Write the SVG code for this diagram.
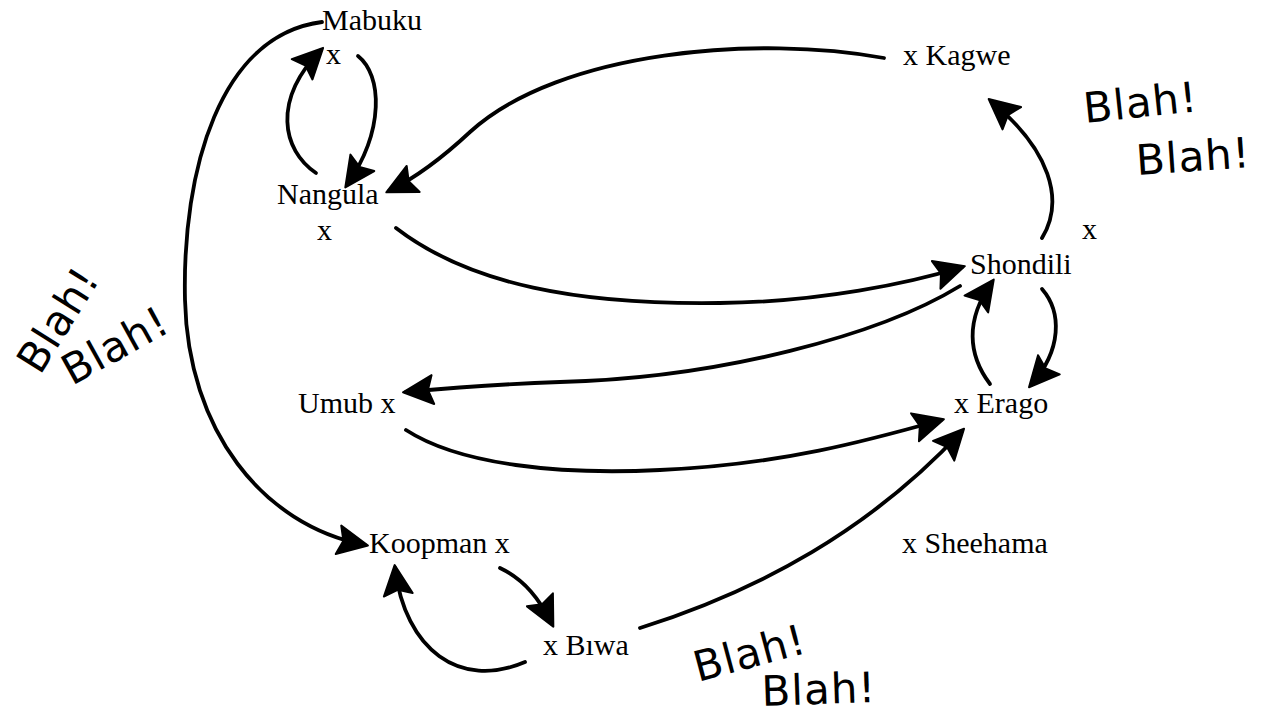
<svg xmlns="http://www.w3.org/2000/svg" width="1279" height="717" viewBox="0 0 1279 717">
  <style>
    .lbl { font-family: "Liberation Serif", "Times New Roman", serif; font-size: 30px; fill: #000; }
    .blah { font-family: "DejaVu Sans", "Liberation Sans", sans-serif; font-size: 42px; letter-spacing: 1px; fill: #000; }
    .edge { fill: none; stroke: #000; stroke-width: 3.8; stroke-linecap: round; marker-end: url(#ah); }
    .head { fill: #000; stroke: #000; stroke-width: 2; stroke-linejoin: round; }
  </style>
  <defs>
    <marker id="ah" viewBox="-36 -20 42 40" refX="0" refY="0" markerWidth="42" markerHeight="40" markerUnits="userSpaceOnUse" orient="auto">
      <path class="head" d="M3,0 L-27,-14.5 L-22,0 L-27,14.5 Z"/>
    </marker>
  </defs>
  <rect width="1279" height="717" fill="#fff"/>

  <!-- connectors -->
  <g id="connectors">
    <path class="edge" d="M322,22 C220,35 182,170 185,300 C188,430 262,525 365,545"/>
    <path class="edge" d="M358,56 C382,75 385,130 347,185"/>
    <path class="edge" d="M316,173 C282,150 272,100 321,50"/>
    <path class="edge" d="M884,58 C760,35 560,50 470,132 C440,160 415,178 389,191"/>
    <path class="edge" d="M396,228 C470,285 580,305 720,303 C820,302 910,283 962,267"/>
    <path class="edge" d="M960,286 C880,335 720,378 560,382 C500,384 450,388 406,392"/>
    <path class="edge" d="M406,430 C460,465 560,475 660,470 C780,465 870,440 941,420"/>
    <path class="edge" d="M1042,289 C1062,312 1062,350 1031,385"/>
    <path class="edge" d="M990,384 C968,355 965,320 992,282"/>
    <path class="edge" d="M1042,238 C1065,200 1050,150 991,101"/>
    <path class="edge" d="M640,628 C760,590 870,530 962,431"/>
    <path class="edge" d="M500,568 C525,580 540,600 552,624"/>
    <path class="edge" d="M525,662 C460,690 405,650 395,568"/>
  </g>

  <!-- nodes -->
  <g id="mabuku">
    <text class="lbl" x="322" y="30">Mabuku</text>
    <text class="lbl" x="326" y="64">x</text>
  </g>
  <g id="nangula">
    <text class="lbl" x="277" y="204">Nangula</text>
    <text class="lbl" x="317" y="240">x</text>
  </g>
  <g id="kagwe">
    <text class="lbl" x="903" y="65">x Kagwe</text>
  </g>
  <g id="shondili">
    <text class="lbl" x="1082" y="239">x</text>
    <text class="lbl" x="970" y="274">Shondili</text>
  </g>
  <g id="umub">
    <text class="lbl" x="298" y="413">Umub x</text>
  </g>
  <g id="erago">
    <text class="lbl" x="954" y="413">x Erago</text>
  </g>
  <g id="koopman">
    <text class="lbl" x="369" y="553">Koopman x</text>
  </g>
  <g id="sheehama">
    <text class="lbl" x="902" y="553">x Sheehama</text>
  </g>
  <g id="biwa">
    <text class="lbl" x="543" y="655">x Bıwa</text>
  </g>

  <!-- handwritten remarks -->
  <g id="remarks">
    <text class="blah" transform="translate(1085,123) rotate(-6)">Blah!</text>
    <text class="blah" transform="translate(1137,175) rotate(-4)">Blah!</text>
    <text class="blah" transform="translate(40,376) rotate(-58)">Blah!</text>
    <text class="blah" transform="translate(72,386) rotate(-29)">Blah!</text>
    <text class="blah" transform="translate(698,682) rotate(-15)">Blah!</text>
    <text class="blah" transform="translate(762,706) rotate(-2)">Blah!</text>
  </g>
</svg>
